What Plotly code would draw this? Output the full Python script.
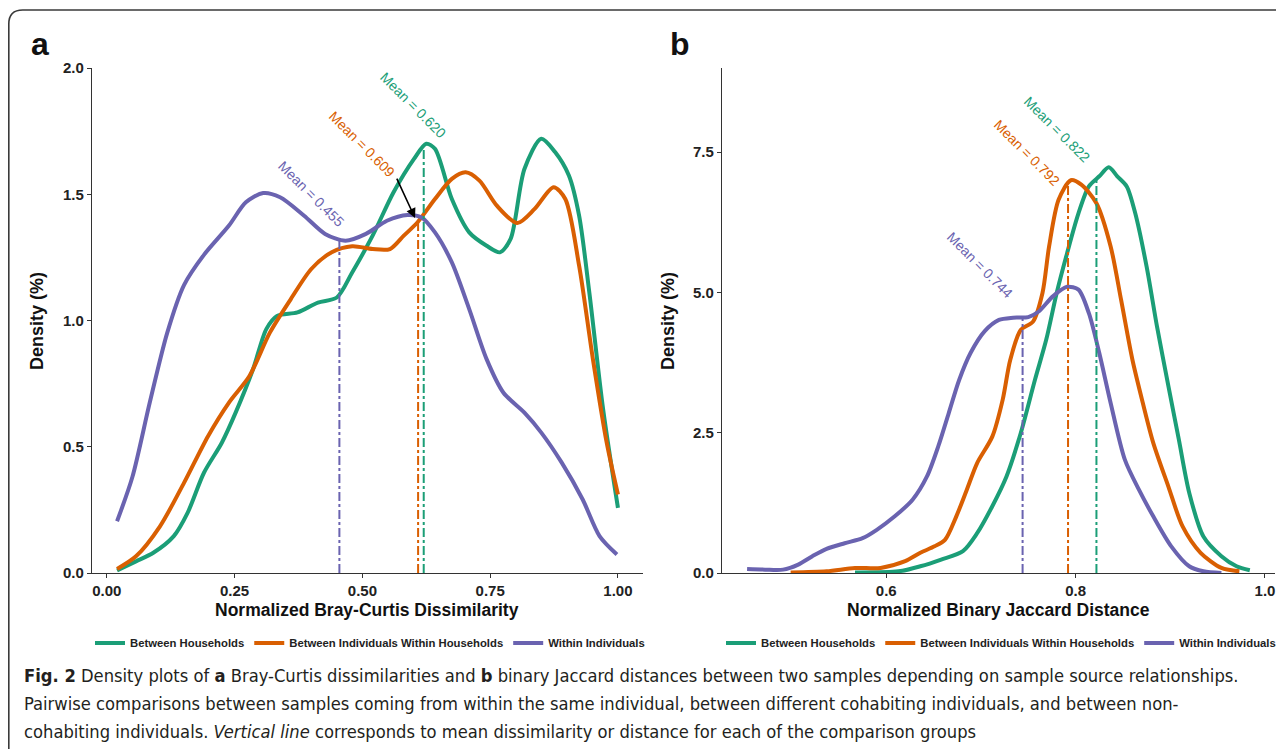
import numpy as np
import plotly.graph_objects as go

W, H = 1284, 749

# ---------------- DATA ----------------
series_names = ["Between Households", "Between Individuals Within Households", "Within Individuals"]
series_colors = ["#1B9E77", "#D95F02", "#6A63B0"]

# Panel a: Normalized Bray-Curtis dissimilarity densities
bc_households_x = [0.02, 0.057, 0.091, 0.131, 0.158, 0.19, 0.225, 0.252, 0.286, 0.312, 0.333, 0.373, 0.413, 0.45,
                   0.48, 0.52, 0.561, 0.601, 0.625, 0.642, 0.675, 0.709, 0.743, 0.769, 0.79, 0.817, 0.85, 0.877,
                   0.904, 0.924, 0.944, 0.971, 1.0]
bc_households_y = [0.01, 0.046, 0.08, 0.146, 0.238, 0.397, 0.516, 0.635, 0.807, 0.966, 1.018, 1.032, 1.071, 1.091,
                   1.19, 1.336, 1.508, 1.64, 1.70, 1.68, 1.481, 1.349, 1.296, 1.27, 1.323, 1.60, 1.72, 1.667,
                   1.574, 1.415, 1.111, 0.648, 0.258]

bc_cohab_x = [0.02, 0.057, 0.104, 0.151, 0.198, 0.239, 0.279, 0.319, 0.36, 0.40, 0.44, 0.48, 0.52, 0.554, 0.581,
              0.608, 0.642, 0.675, 0.702, 0.729, 0.763, 0.803, 0.837, 0.874, 0.897, 0.924, 0.951, 0.978, 1.0]
bc_cohab_y = [0.016, 0.066, 0.185, 0.357, 0.542, 0.675, 0.78, 0.952, 1.085, 1.204, 1.27, 1.294, 1.283, 1.283, 1.336,
              1.389, 1.481, 1.561, 1.587, 1.554, 1.455, 1.386, 1.442, 1.528, 1.481, 1.217, 0.847, 0.516, 0.311]

bc_within_x = [0.02, 0.05, 0.084, 0.118, 0.151, 0.19, 0.239, 0.272, 0.306, 0.339, 0.386, 0.427, 0.467, 0.507, 0.548,
               0.588, 0.615, 0.642, 0.675, 0.709, 0.743, 0.776, 0.817, 0.85, 0.89, 0.931, 0.964, 0.998]
bc_within_y = [0.205, 0.38, 0.675, 0.95, 1.14, 1.26, 1.376, 1.468, 1.505, 1.488, 1.415, 1.343, 1.316, 1.343, 1.395,
               1.418, 1.409, 1.349, 1.23, 1.045, 0.847, 0.714, 0.635, 0.556, 0.437, 0.291, 0.146, 0.073]

bc_means = [0.620, 0.609, 0.455]

# Panel b: Normalized binary Jaccard distance densities
jac_households_x = [0.567, 0.613, 0.636, 0.658, 0.681, 0.696, 0.712, 0.727, 0.742, 0.757, 0.769, 0.78, 0.791, 0.803,
                    0.814, 0.825, 0.835, 0.844, 0.854, 0.863, 0.875, 0.886, 0.898, 0.909, 0.92, 0.935, 0.954, 0.97,
                    0.984]
jac_households_y = [0.01, 0.03, 0.12, 0.24, 0.39, 0.71, 1.19, 1.72, 2.49, 3.44, 4.16, 4.99, 5.70, 6.41, 6.89, 7.07,
                    7.23, 7.07, 6.89, 6.41, 5.46, 4.39, 3.33, 2.38, 1.43, 0.65, 0.30, 0.12, 0.05]

jac_cohab_x = [0.499, 0.537, 0.567, 0.594, 0.62, 0.636, 0.651, 0.662, 0.674, 0.685, 0.696, 0.712, 0.723, 0.731, 0.742,
               0.755, 0.765, 0.772, 0.782, 0.795, 0.806, 0.822, 0.837, 0.848, 0.86, 0.871, 0.882, 0.898, 0.913,
               0.932, 0.954, 0.973]
jac_cohab_y = [0.01, 0.03, 0.09, 0.09, 0.21, 0.36, 0.475, 0.59, 1.01, 1.48, 1.96, 2.43, 3.09, 3.80, 4.33, 4.48, 4.99,
               5.82, 6.65, 7.00, 6.92, 6.59, 5.82, 4.87, 3.80, 3.03, 2.32, 1.54, 0.83, 0.36, 0.09, 0.03]

jac_within_x = [0.453, 0.472, 0.491, 0.507, 0.522, 0.537, 0.556, 0.575, 0.59, 0.609, 0.628, 0.643, 0.655, 0.666, 0.677,
                0.689, 0.704, 0.719, 0.734, 0.75, 0.761, 0.776, 0.791, 0.803, 0.814, 0.825, 0.837, 0.852, 0.867,
                0.882, 0.901, 0.92, 0.935, 0.954]
jac_within_y = [0.07, 0.06, 0.06, 0.15, 0.30, 0.43, 0.53, 0.62, 0.77, 1.01, 1.31, 1.72, 2.26, 2.85, 3.44, 3.92, 4.31,
                4.51, 4.55, 4.56, 4.66, 4.93, 5.10, 5.05, 4.63, 3.92, 3.03, 2.02, 1.48, 1.01, 0.475, 0.12, 0.03, 0.0]

jac_means = [0.822, 0.792, 0.744]

bc_ticks = [0.0, 0.25, 0.5, 0.75, 1.0]
bc_yticks = [0.0, 0.5, 1.0, 1.5, 2.0]
jac_ticks = [0.6, 0.8, 1.0]
jac_yticks = [0.0, 2.5, 5.0, 7.5]

# ---------------- FIGURE ----------------
FONT = "Liberation Sans, Arial, Helvetica, sans-serif"
CAPFONT = "Liberation Sans Narrow, DejaVu Sans Condensed, Roboto, sans-serif"
OFF = 8  # page body margin of the html page


def px_x(p):
    return (p - OFF) / W


def px_y(p):
    return 1 - (p - OFF) / H


fig = go.Figure()

panels = [
    ("x", "y", "legend", [(bc_households_x, bc_households_y), (bc_cohab_x, bc_cohab_y), (bc_within_x, bc_within_y)], bc_means),
    ("x2", "y2", "legend2", [(jac_households_x, jac_households_y), (jac_cohab_x, jac_cohab_y), (jac_within_x, jac_within_y)], jac_means),
]

for xa, ya, lg, curves, means in panels:
    for i, (cx, cy) in enumerate(curves):
        fig.add_trace(go.Scatter(
            x=cx, y=cy, mode="lines", name=series_names[i], legend=lg,
            line=dict(color=series_colors[i], width=4, shape="spline", smoothing=0.8),
            xaxis=xa, yaxis=ya, hoverinfo="skip"))
    for i, (cx, cy) in enumerate(curves):
        m = means[i]
        top = float(np.interp(m, cx, cy))
        fig.add_trace(go.Scatter(
            x=[m, m], y=[0, top], mode="lines", showlegend=False,
            line=dict(color=series_colors[i], width=2, dash="dashdot"),
            xaxis=xa, yaxis=ya, hoverinfo="skip"))

axis_common = dict(showline=True, linecolor="#333333", linewidth=1.2, ticks="outside", ticklen=4,
                   tickcolor="#333333", tickwidth=1.2, showgrid=False, zeroline=False,
                   tickfont=dict(family=FONT, size=15, color="#222222", weight="bold"), automargin=False)

legend_common = dict(orientation="h", yanchor="middle", xanchor="center",
                     font=dict(family=FONT, size=11.3, color="#222222", weight="bold"),
                     itemwidth=30, bgcolor="rgba(0,0,0,0)", traceorder="normal")

fig.update_layout(
    width=W, height=H, margin=dict(l=0, r=0, t=0, b=0),
    paper_bgcolor="white", plot_bgcolor="white",
    xaxis=dict(domain=[px_x(92), px_x(643)], range=[-0.029, 1.049], tickvals=bc_ticks,
               tickformat=".2f", anchor="y", **axis_common),
    yaxis=dict(domain=[px_y(573), px_y(68)], range=[0, 2.0], tickvals=bc_yticks,
               tickformat=".1f", anchor="x", **axis_common),
    xaxis2=dict(domain=[px_x(722), px_x(1275)], range=[0.4265, 1.0106], tickvals=jac_ticks,
                tickformat=".1f", anchor="y2", **axis_common),
    yaxis2=dict(domain=[px_y(573), px_y(68)], range=[0, 9.0], tickvals=jac_yticks,
                tickformat=".1f", anchor="x2", **axis_common),
    legend=dict(x=px_x(370), y=px_y(643), **legend_common),
    legend2=dict(x=px_x(1001), y=px_y(643), **legend_common),
    showlegend=True,
)

ann = []
# mean labels, panel a
for txt, col, x, y in [("Mean = 0.620", series_colors[0], 0.599, 1.853),
                       ("Mean = 0.609", series_colors[1], 0.499, 1.699),
                       ("Mean = 0.455", series_colors[2], 0.400, 1.500)]:
    ann.append(dict(x=x, y=y, xref="x", yref="y", text=txt, showarrow=False, textangle=45,
                    font=dict(family=FONT, size=14, color=col), xanchor="center", yanchor="middle"))
ann.append(dict(x=0.603, y=1.406, ax=0.566, ay=1.568, xref="x", yref="y", axref="x", ayref="y",
                text="", showarrow=True, arrowhead=2, arrowsize=1.2, arrowwidth=1.6, arrowcolor="black"))
# mean labels, panel b
for txt, col, x, y in [("Mean = 0.822", series_colors[0], 0.780, 7.91),
                       ("Mean = 0.792", series_colors[1], 0.749, 7.49),
                       ("Mean = 0.744", series_colors[2], 0.699, 5.49)]:
    ann.append(dict(x=x, y=y, xref="x2", yref="y2", text=txt, showarrow=False, textangle=45,
                    font=dict(family=FONT, size=14, color=col), xanchor="center", yanchor="middle"))

# axis titles
for x, y, txt, ang in [(367, 610, "Normalized Bray-Curtis Dissimilarity", 0),
                       (998, 610, "Normalized Binary Jaccard Distance", 0),
                       (37, 321, "Density (%)", -90),
                       (668, 321, "Density (%)", -90)]:
    ann.append(dict(x=px_x(x), y=px_y(y), xref="paper", yref="paper", text=txt, showarrow=False,
                    textangle=ang, font=dict(family=FONT, size=17.5 if ang == 0 else 18, color="#111111", weight="bold"),
                    xanchor="center", yanchor="middle"))

# panel letters
for x, t in [(40, "a"), (680, "b")]:
    ann.append(dict(x=px_x(x), y=px_y(44), xref="paper", yref="paper", text=t, showarrow=False,
                    font=dict(family=FONT, size=32, color="#111111", weight="bold"),
                    xanchor="center", yanchor="middle"))

# caption
cap_lines = [
    "<b>Fig. 2</b> Density plots of <b>a</b> Bray-Curtis dissimilarities and <b>b</b> binary Jaccard distances between two samples depending on sample source relationships.",
    "Pairwise comparisons between samples coming from within the same individual, between different cohabiting individuals, and between non-",
    "cohabiting individuals. <i>Vertical line</i> corresponds to mean dissimilarity or distance for each of the comparison groups",
]
for k, line in enumerate(cap_lines):
    ann.append(dict(x=px_x(22), y=px_y(675 + 28 * k), xref="paper", yref="paper", text=line, showarrow=False,
                    font=dict(family=CAPFONT, size=18.2, color="#231F20"), xanchor="left", yanchor="middle"))

fig.update_layout(annotations=ann)

# rounded outer frame
r = 14
L, T = 8.8, 10
path = (f"M {px_x(L)},{px_y(770)} L {px_x(L)},{px_y(T + r)} "
        f"Q {px_x(L)},{px_y(T)} {px_x(L + r)},{px_y(T)} L {px_x(1300)},{px_y(T)}")
fig.add_shape(type="path", path=path, xref="paper", yref="paper",
              line=dict(color="#3a3a3a", width=1.6))

fig.write_html("out.html")
